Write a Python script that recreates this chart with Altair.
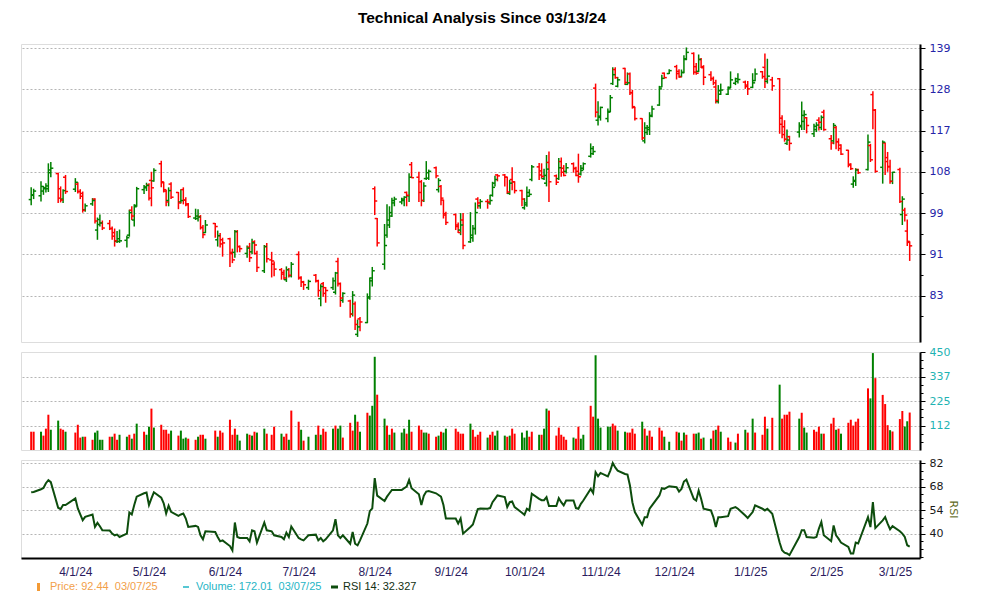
import altair as alt
import pandas as pd

TITLE = "Technical Analysis Since 03/13/24"
HOLIDAYS = ["2024-03-29", "2024-05-27", "2024-06-19", "2024-07-04", "2024-09-02",
            "2024-11-28", "2024-12-25", "2025-01-01", "2025-01-09", "2025-01-20", "2025-02-17"]

# ---- daily OHLC [open, high, low, close] ----
mar24 = [[101.7,104.3,100.5,102.7],[102.6,104.0,101.8,103.5],[102.5,105.6,101.3,104.5],[103.5,104.6,102.7,104.2],
         [104.0,105.2,103.2,104.6],[104.0,109.6,103.3,108.1],[107.5,109.9,106.5,108.5],[107.3,107.5,101.0,102.0],
         [104.0,104.5,101.1,101.6],[101.8,103.9,101.0,103.6],[106.5,107.0,102.9,103.4]]
apr24 = [[103.9,106.3,103.3,105.4],[105.0,105.4,103.0,103.4],[103.4,103.9,101.8,102.4],[103.0,103.4,99.0,99.5],
         [99.6,100.9,99.2,100.4],[100.8,102.0,100.4,101.5],[101.8,102.0,96.8,97.3],[95.5,98.0,93.6,97.6],
         [96.6,98.6,96.2,96.9],[96.9,97.4,95.5,95.9],[96.8,97.5,95.5,95.8],[95.8,96.2,93.6,94.3],
         [95.0,95.8,92.3,93.4],[93.3,95.3,93.0,93.8],[93.3,95.6,93.0,93.4],[93.5,94.4,92.1,94.0],
         [94.5,99.6,94.2,99.0],[99.5,100.3,97.5,98.3],[97.5,100.7,96.2,100.2],[100.5,104.4,100.2,104.0],
         [103.8,104.8,102.9,104.4],[104.2,105.3,103.5,104.7]]
may24 = [[104.8,105.2,101.5,102.0],[105.8,107.7,100.3,104.2],[105.7,108.5,105.5,108.0],[109.5,110.2,104.3,105.5],
         [105.3,105.5,103.2,103.8],[103.5,103.8,100.3,101.2],[101.5,104.3,100.3,103.6],[105.0,105.4,101.8,102.2],
         [103.2,103.3,99.7,101.0],[101.2,103.9,100.9,101.5],[103.8,104.3,100.7,101.6],[101.6,102.2,100.3,100.6],
         [100.8,101.0,97.9,98.2],[97.9,99.8,97.5,98.3],[97.8,99.7,97.2,98.1],[98.2,98.5,95.6,96.0],
         [96.0,96.5,93.9,94.6],[95.0,97.5,94.9,96.5],[96.8,96.9,94.0,96.2],[93.6,95.4,92.3,94.4],
         [94.4,94.9,92.1,92.8],[93.6,94.0,90.4,93.0]]
jun24 = [[93.8,94.0,88.5,91.0],[91.2,91.9,89.2,89.8],[91.2,95.5,90.2,95.2],[95.2,95.5,91.2,92.3],
         [92.3,92.5,91.2,91.9],[91.0,92.5,90.2,92.0],[92.2,93.0,89.4,90.2],[91.3,93.8,90.9,93.0],
         [93.2,93.5,90.8,92.6],[91.0,91.5,87.6,88.4],[87.8,92.6,87.4,92.3],[92.3,93.0,89.3,90.0],
         [89.8,91.3,86.6,89.6],[89.0,89.5,86.8,88.1],[88.0,88.3,86.2,87.2],[87.5,88.0,86.2,86.5],
         [86.2,88.6,85.8,88.0],[88.0,88.3,86.6,87.0],[86.9,89.4,86.6,89.0]]
jul24 = [[90.8,91.4,86.2,86.5],[86.6,86.8,84.9,85.8],[85.8,86.0,84.4,85.3],[84.8,86.2,84.4,85.9],
         [87.0,87.2,85.7,86.0],[86.0,86.2,83.2,84.3],[82.9,85.4,81.6,85.0],[85.5,85.8,83.2,83.8],
         [84.8,84.9,82.2,84.3],[84.8,86.6,84.4,86.0],[84.0,87.6,83.6,87.4],[89.5,90.2,85.0,85.5],
         [85.5,85.7,81.5,83.0],[82.6,84.0,82.2,83.8],[82.5,82.7,79.7,80.3],[80.3,84.2,79.9,83.5],
         [82.0,82.4,77.7,78.6],[77.0,79.4,76.6,78.2],[79.5,79.8,77.5,79.0],[78.9,83.8,78.8,83.0],
         [83.2,86.6,82.7,86.0],[86.5,88.5,85.0,87.8]]
aug24 = [[104.0,104.5,98.5,101.4],[97.8,97.9,92.3,93.0],[89.0,96.7,88.0,92.5],[94.5,100.7,94.0,97.5],
         [96.5,100.3,95.9,99.0],[98.3,102.1,98.1,101.5],[101.0,102.3,100.3,101.8],[101.2,102.1,100.7,101.8],
         [101.5,102.4,100.3,102.2],[103.2,103.4,100.3,102.6],[102.5,107.4,101.2,106.5],[109.3,109.9,106.3,106.4],
         [106.5,107.7,101.2,103.2],[105.5,105.9,100.3,101.5],[101.5,105.4,101.2,104.6],[106.2,110.1,105.9,107.5],
         [106.3,108.2,105.9,107.8],[108.6,108.9,106.3,106.8],[103.8,106.3,103.2,105.8],[104.5,104.8,100.5,102.0],
         [101.6,101.7,97.8,98.5],[98.8,99.2,96.5,97.0]]
sep24 = [[98.6,98.8,95.5,96.2],[96.5,97.0,94.9,95.0],[95.5,98.9,94.5,96.5],[97.5,98.9,91.8,92.5],
         [93.2,99.1,93.0,94.5],[94.0,96.5,93.2,95.8],[95.8,101.1,94.6,99.0],[101.8,102.2,99.8,101.0],
         [100.4,101.8,99.8,101.3],[101.3,101.8,99.8,101.2],[101.0,102.7,100.6,101.5],[102.6,105.5,102.3,104.3],
         [105.2,106.8,104.5,106.0],[107.0,107.2,105.6,106.8],[107.0,107.2,104.5,106.5],[106.5,106.6,102.9,103.3],
         [103.0,105.9,102.7,105.2],[106.0,108.7,103.7,105.5],[105.5,105.6,103.0,103.6],[103.6,103.8,100.3,101.8]]
oct24 = [[100.0,102.0,99.6,101.0],[100.6,104.5,100.2,103.2],[102.4,103.9,102.3,102.8],[106.0,109.2,105.6,108.8],
         [108.8,109.7,105.9,107.0],[107.9,109.6,106.2,106.7],[106.2,108.4,105.9,106.9],[105.2,111.5,104.5,108.3],
         [109.8,112.3,101.2,105.5],[106.8,107.1,104.8,105.4],[106.2,110.8,105.9,108.6],[110.0,110.9,106.6,107.6],
         [108.5,109.2,106.7,106.9],[107.8,109.7,107.3,108.6],[109.5,109.8,107.5,108.5],[108.4,108.8,106.7,106.9],
         [107.8,111.8,105.3,106.6],[107.2,109.2,106.9,108.0],[108.5,109.8,108.1,109.5],[111.2,114.2,110.9,113.0],
         [111.8,113.6,111.5,112.3],[128.0,129.2,120.5,121.8],[119.8,124.6,118.5,120.8]]
nov24 = [[120.5,123.2,119.7,123.0],[120.2,122.7,119.3,121.8],[122.0,126.2,121.8,125.5],[129.2,133.6,128.8,131.6],
         [133.0,133.6,130.5,130.8],[128.5,131.0,128.2,130.2],[133.3,133.5,128.8,129.5],[129.0,132.2,128.8,129.4],
         [131.8,132.2,126.2,126.8],[126.8,127.5,122.7,123.2],[123.0,123.2,119.7,120.2],[120.2,120.3,115.0,115.5],
         [114.8,119.3,114.2,117.9],[116.8,118.6,116.2,118.0],[117.5,121.8,116.2,120.8],[121.0,123.4,120.5,122.6],
         [123.6,128.6,123.4,127.8],[128.3,131.6,128.2,130.6],[132.0,132.2,130.5,130.8],[131.9,133.1,131.8,132.7]]
dec24 = [[133.8,134.3,130.3,131.9],[132.5,133.1,130.8,131.0],[131.1,133.0,130.9,132.2],[132.2,137.0,132.0,135.8],
         [136.0,139.2,135.6,137.8],[137.5,137.8,131.6,132.3],[133.8,134.8,131.6,132.0],[132.5,137.2,132.3,135.8],
         [135.8,136.2,133.4,133.8],[133.5,134.2,128.8,130.9],[131.6,132.5,129.9,130.5],[130.6,131.1,128.8,129.4],
         [128.3,130.2,124.0,124.8],[124.5,128.8,124.0,127.3],[126.4,129.2,126.2,127.5],[126.4,128.4,126.2,127.8],
         [128.2,132.5,128.0,130.2],[129.3,130.8,128.8,130.5],[129.8,132.0,129.2,130.3],[129.6,130.0,127.8,128.4],
         [128.8,129.9,126.2,127.8]]
jan25 = [[128.2,132.0,128.0,129.4],[130.0,133.3,129.8,131.8],[132.4,132.6,130.5,131.1],[133.6,137.5,128.0,130.4],
         [129.8,136.0,129.2,131.2],[130.2,131.0,127.3,128.6],[130.5,130.7,116.5,118.8],[120.3,121.0,115.4,116.3],
         [118.2,119.8,114.6,115.2],[114.2,117.5,113.8,115.0],[115.8,116.0,112.5,114.2],[116.9,119.3,115.6,118.5],
         [118.2,124.5,117.4,121.0],[119.5,122.3,117.4,121.2],[120.4,120.6,116.6,118.5],[116.5,118.9,115.7,118.3],
         [117.5,119.3,116.9,118.6],[119.8,120.5,117.3,119.3],[118.0,121.0,117.4,120.5],[121.8,122.4,117.2,117.5]]
feb25 = [[115.3,116.2,112.7,114.3],[114.8,119.1,114.0,118.5],[118.0,118.4,112.8,114.6],[114.6,115.4,112.4,113.0],
         [113.8,114.0,111.5,111.7],[112.6,112.7,108.7,109.2],[109.4,109.6,108.1,108.4],[105.0,106.7,104.2,105.8],
         [105.6,108.5,104.6,108.1],[108.2,108.4,107.2,107.5],[108.2,116.3,108.0,114.5],[113.7,114.1,109.9,110.4],
         [126.3,127.2,117.6,122.3],[122.3,122.6,107.5,107.8],[108.7,114.9,105.1,114.5],[114.3,114.4,107.0,110.0],
         [110.9,112.2,107.7,108.9],[108.8,110.4,105.1,105.6],[105.6,107.7,105.0,107.6]]
mar25 = [[108.2,108.6,101.0,101.3],[98.6,102.4,96.5,101.8],[99.5,100.0,97.2,98.5],[95.3,97.6,92.4,93.3],
         [93.1,93.3,89.6,92.44]]

# ---- daily volume and its bar colour (u = green, d = red) ----
vol_m = [
    [84,84,84,66,98,162,93,135,98,93,84],
    [80,116,57,61,61,47,80,89,47,47,61,61,75,47,70,61,70,52,75,121,84,70],
    [107,190,103,116,93,93,75,89,66,89,52,57,52,47,61,70,70,52,89,61,89,80],
    [139,70,98,70,43,75,70,66,84,80,98,75,70,107,75,61,75,47,181],
    [130,93,43,61,70,112,70,98,84,98,112,98,112,57,125,89,162,130,84,171,158,203],
    [428,254,144,112,70,98,80,80,98,75,139,84,112,93,80,80,75,61,66,84,80,98],
    [98,84,75,75,121,93,61,70,84,57,70,84,66,89,66,61,66,98,75,80],
    [57,89,61,84,70,70,98,190,181,66,103,70,61,47,57,52,107,52,70,203,153,435,144],
    [103,107,107,121,112,89,84,80,80,98,75,130,98,66,89,61,103,89,61,38],
    [84,80,43,80,70,75,75,80,52,57,52,89,93,112,84,57,38,34,75,93,80],
    [144,80,70,153,98,148,300,144,162,162,176,144,171,103,80,93,84,107,75,75],
    [121,148,93,98,75,125,139,112,130,144,283,237,445,330,253,211,114,91,85],
    [142,179,108,132,172.01],
]
vdir_m = [
    "dd" "udd" "duu" "ddu",
    "ddduddu" "uuu" "duddu" "ududu" "du",
    "udu" "ddddu" "duuud" "duddu" "dudd",
    "ddduu" "ududu" "uddd" "uddud",
    "dudu" "ududd" "uduud" "ddudu" "duu",
    "ud" "ududu" "uudud" "dduud" "duduu",
    "dddd" "udddd" "udduu" "ududd" "u",
    "uudd" "uduud" "ddddd" "udduu" "dduu",
    "u" "uuddu" "udddd" "ududd" "dduu",
    "dudud" "duudu" "ududu" "ddud" "ud",
    "ud" "ddud" "udddd" "uduu" "dddud",
    "ddudu" "ddddd" "duud" "dddud",
    "dduud",
]

# ---- RSI 14 ----
rsi_m = [
    [64.6,64.8,66.4,67.2,70.0,71.8,70.6,55.4,54.6,57.0,57.0],
    [61.0,55.0,51.4,48.0,50.0,51.4,44.0,46.4,44.4,42.0,41.8,40.0,39.0,39.4,38.0,40.0,52.6,51.4,57.0,62.0,64.0,64.4],
    [57.0,61.0,64.6,61.4,58.0,52.0,56.6,53.0,50.6,51.4,52.0,49.0,44.0,44.6,44.0,39.0,36.6,41.4,41.0,38.0,35.4,36.0],
    [32.6,30.0,46.6,38.0,37.4,37.4,35.4,42.0,41.4,34.6,46.6,42.0,41.4,39.0,38.0,36.6,40.6,38.0,44.2],
    [37.4,36.6,36.0,39.0,39.4,36.0,37.4,35.4,36.6,42.0,48.6,39.0,37.4,39.0,34.0,41.0,34.0,33.0,36.0,46.0,53.4,55.0],
    [73.0,62.6,59.4,62.0,64.0,66.0,66.0,66.0,67.0,68.0,72.0,67.0,63.4,57.0,62.6,65.0,65.4,64.0,63.0,62.0,57.0,49.0],
    [49.0,46.0,49.0,40.0,44.0,45.4,50.0,54.6,55.0,54.8,55.2,58.7,60.7,62.7,61.7,55.8,58.7,59.1,55.8,52.4],
    [51.2,54.8,53.8,63.7,60.7,59.9,59.9,61.7,56.4,56.4,61.1,58.7,56.8,59.7,59.7,55.2,54.8,57.7,59.7,66.6,64.2,76.5,74.1],
    [76.1,74.1,77.5,82.0,79.4,77.5,75.5,75.1,68.6,58.7,52.8,45.3,49.8,49.8,54.8,56.8,62.7,67.0,66.6,68.2],
    [67.6,65.0,66.6,71.0,72.1,60.7,59.7,65.6,60.7,54.8,53.8,49.8,43.9,49.8,49.8,50.4,54.8,55.8,54.8,50.8,49.3],
    [52.8,56.8,54.8,53.8,54.8,51.8,34.7,30.1,28.7,28.2,27.2,38.0,42.0,42.0,38.0,37.6,38.0,43.0,46.9,39.0],
    [35.5,44.9,39.0,37.0,34.7,32.1,28.2,28.2,34.7,34.1,49.8,43.9,58.7,43.3,47.9,49.8,45.9,42.6,44.5],
    [41.4,40.0,38.0,33.1,32.327],
]
ohlc_m = [mar24, apr24, may24, jun24, jul24, aug24, sep24, oct24, nov24, dec24, jan25, feb25, mar25]

PRICE_TICKS = [83.4, 90.81, 98.89, 107.68, 117.25, 127.68, 139.03]
PRICE_MINOR = [79.92, 87.03, 94.77, 103.19, 112.37, 122.36, 133.24]
VOL_TICKS = [112.5, 225, 337.5, 450]
VOL_GRID = [112.5, 225, 337.5]
VOL_MINOR = [37.5, 75, 150, 187.5, 262.5, 300, 375, 412.5]
RSI_TICKS = [40, 54, 68, 82]
RSI_MINOR = [26.0, 30.67, 35.33, 44.67, 49.33, 58.67, 63.33, 72.67, 77.33]
MONTHS = [(2024, m) for m in range(4, 13)] + [(2025, 1), (2025, 2), (2025, 3)]

# ---- assemble the table ----
days = [d for d in pd.bdate_range("2024-03-14", "2025-03-07") if d.strftime("%Y-%m-%d") not in HOLIDAYS]
month_keys = []
for d in days:
    k = (d.year, d.month)
    if k not in month_keys:
        month_keys.append(k)
rows = []
for mi, key in enumerate(month_keys):
    mdays = [d for d in days if (d.year, d.month) == key]
    n = min(len(mdays), len(ohlc_m[mi]), len(vol_m[mi]), len(vdir_m[mi]), len(rsi_m[mi]))
    for i in range(n):
        o, h, l, c = ohlc_m[mi][i]
        rows.append({"date": mdays[i].strftime("%Y-%m-%d"), "open": o, "high": h, "low": l, "close": c,
                     "vol": vol_m[mi][i], "vdir": "up" if vdir_m[mi][i] == "u" else "down",
                     "rsi": rsi_m[mi][i], "pdir": "up" if c >= o else "down"})
df = pd.DataFrame(rows)

last_close = mar25[-1][3]
last_vol = vol_m[-1][-1]
last_rsi = rsi_m[-1][-1]
last_date = "03/07/25"

W = 899
xscale = alt.Scale(type="utc", domain=[
    alt.DateTime(year=2024, month=3, date=9, hours=20, minutes=24, utc=True),
    alt.DateTime(year=2025, month=3, date=11, hours=4, minutes=48, utc=True)])
X_NONE = alt.X("date:T", scale=xscale, axis=None, title=None)

GRID = dict(grid=True, gridColor="#b5b5b5", gridDash=[2, 2], gridWidth=1)
AX = dict(orient="right", domainColor="black", domainWidth=2, tickColor="black", tickSize=5,
          labelFont="DejaVu Sans", labelFontSize=11, labelPadding=4, labelOverlap=False,
          labelFlush=False, title=None)
MINOR = dict(orient="right", labels=False, domain=False, grid=False, tickColor="black",
             tickSize=3, title=None)

pcolor = alt.Color("pdir:N", scale=alt.Scale(domain=["up", "down"], range=["#008000", "#ff0000"]), legend=None)
vcolor = alt.Color("vdir:N", scale=alt.Scale(domain=["up", "down"], range=["#1ba53b", "#ff2a00"]), legend=None)

pscale = alt.Scale(type="log", domain=[75.8, 140.2], nice=False)
paxis = alt.Axis(values=PRICE_TICKS, format=".0f", labelColor="#2424a8", **GRID, **AX)

hl = alt.Chart(df).mark_rule(strokeWidth=1.5).encode(
    x=X_NONE, y=alt.Y("low:Q", scale=pscale, axis=paxis, title=None), y2="high:Q", color=pcolor)
op = alt.Chart(df).mark_rule(strokeWidth=1.5, xOffset=-2.5, x2Offset=0).encode(
    x=X_NONE, x2="date:T", y=alt.Y("open:Q", scale=pscale, axis=paxis, title=None), color=pcolor)
cl = alt.Chart(df).mark_rule(strokeWidth=1.5, xOffset=0, x2Offset=2.5).encode(
    x=X_NONE, x2="date:T", y=alt.Y("close:Q", scale=pscale, axis=paxis, title=None), color=pcolor)
pminor = alt.Chart(pd.DataFrame({"close": [100.0]})).mark_rule(opacity=0).encode(
    y=alt.Y("close:Q", scale=pscale, axis=alt.Axis(values=PRICE_MINOR, **MINOR), title=None))
price = alt.layer(alt.layer(hl, op, cl), pminor).resolve_axis(y="independent").properties(width=W, height=298)

vscale = alt.Scale(domain=[0, 450], nice=False, zero=True)
vaxis = alt.Axis(values=VOL_TICKS, labelExpr="floor(datum.value)", labelColor="#1fb3b3", grid=False, **AX)
vbars = alt.Chart(df).mark_rule(strokeWidth=2).encode(
    x=X_NONE, y=alt.Y("vol:Q", scale=vscale, axis=vaxis, title=None), y2=alt.datum(0), color=vcolor)
vminor = alt.Chart(pd.DataFrame({"vol": [0.0]})).mark_rule(opacity=0).encode(
    y=alt.Y("vol:Q", scale=vscale, axis=alt.Axis(values=VOL_MINOR, **MINOR), title=None))
vgrid = alt.Chart(pd.DataFrame({"vol": [0.0]})).mark_rule(opacity=0).encode(
    y=alt.Y("vol:Q", scale=vscale, axis=alt.Axis(values=VOL_GRID, orient="right", labels=False, ticks=False,
                                                  domain=False, title=None, **GRID), title=None))
volume = alt.layer(vgrid, vbars, vminor).resolve_axis(y="independent").properties(width=W, height=98)

rscale = alt.Scale(domain=[25.5, 83.8], nice=False, zero=False)
rax = dict(AX)
rax.pop("title")
raxis = alt.Axis(values=RSI_TICKS, labelColor="#1a1a1a", title="RSI", titleColor="#5f6a1c",
                 titleFont="DejaVu Sans", titleFontSize=11, titleFontWeight="normal", titleAngle=90,
                 titlePadding=5, **GRID, **rax)
xaxis = alt.Axis(values=[alt.DateTime(year=y, month=m, date=1, utc=True) for y, m in MONTHS],
                 format="%-m/%-d/%y", labelColor="#2b1b5e", labelFont="Liberation Sans", labelFontSize=12,
                 domainColor="black", domainWidth=2, ticks=False, labelPadding=8, grid=False,
                 labelFlush=False, labelOverlap=False, title=None)
line = alt.Chart(df).mark_line(strokeWidth=2, color="#0d4d0d").encode(
    x=alt.X("date:T", scale=xscale, axis=xaxis, title=None),
    y=alt.Y("rsi:Q", scale=rscale, axis=raxis, title="RSI"))
rminor = alt.Chart(pd.DataFrame({"rsi": [50.0]})).mark_rule(opacity=0).encode(
    y=alt.Y("rsi:Q", scale=rscale, axis=alt.Axis(values=RSI_MINOR, **MINOR), title=None))

one = pd.DataFrame({"k": [0]})
LEG_Y = 127
def leg_text(txt, x, color):
    return alt.Chart(pd.DataFrame({"t": [txt]})).mark_text(
        align="left", baseline="middle", font="Liberation Sans", fontSize=11, color=color).encode(
        x=alt.value(x), y=alt.value(LEG_Y), text="t:N")

leg = [
    alt.Chart(one).mark_rect(color="#f39a35").encode(x=alt.value(16), x2=alt.value(19),
                                                     y=alt.value(LEG_Y - 4), y2=alt.value(LEG_Y + 4)),
    leg_text(f"Price: {last_close:.2f}\u00a0 {last_date}", 29, "#f2a04a"),
    alt.Chart(one).mark_rule(color="#1fb5c5", strokeWidth=1.5).encode(x=alt.value(162), x2=alt.value(168),
                                                                       y=alt.value(LEG_Y)),
    leg_text(f"Volume: {last_vol:.2f}\u00a0 {last_date}", 175, "#1fb5c5"),
    alt.Chart(one).mark_rule(color="#0d4d0d", strokeWidth=3).encode(x=alt.value(310), x2=alt.value(317),
                                                                     y=alt.value(LEG_Y)),
    leg_text(f"RSI 14: {last_rsi:.3f}", 322, "#123012"),
]
rsi = alt.layer(line, rminor, *leg).resolve_axis(y="independent").properties(width=W, height=98)

chart = alt.vconcat(price, volume, rsi, spacing=10, bounds="flush").properties(
    title=alt.TitleParams(TITLE, fontSize=15.5, font="Liberation Sans", fontWeight="bold", color="black",
                          anchor="middle", offset=15, dx=-8),
    padding={"left": 12, "top": 3, "right": 5, "bottom": 5},
).configure_view(stroke=None).configure(background="white")

chart.save("out.html", embed_options={"renderer": "svg", "actions": False})
